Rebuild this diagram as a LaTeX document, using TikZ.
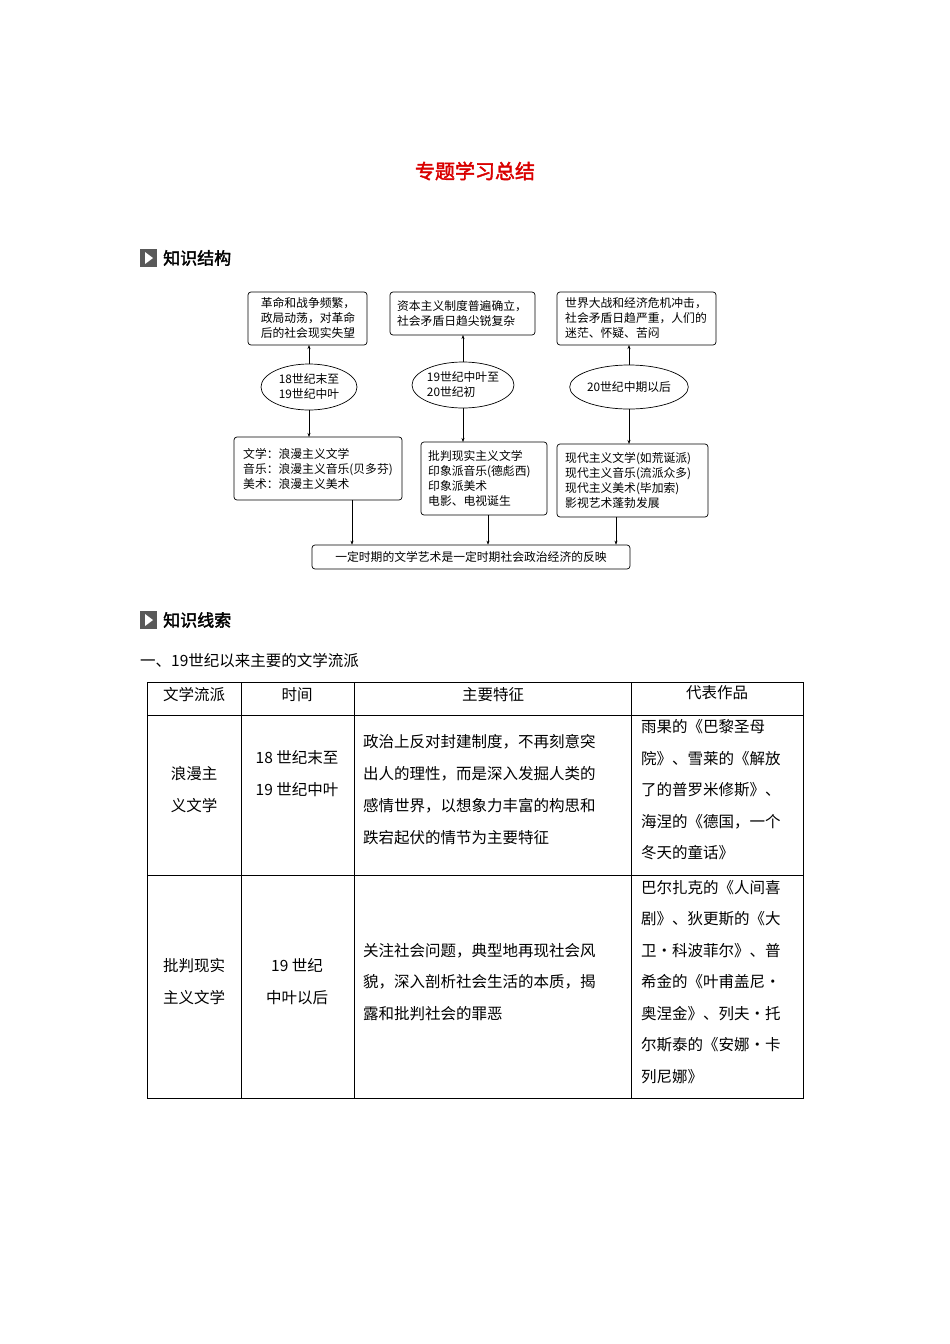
\documentclass[tikz,border=0pt]{standalone}
\usepackage{fontspec}
\setmainfont{Noto Sans CJK SC}[AutoFakeBold=2]
\usetikzlibrary{shapes.geometric,arrows.meta}
\begin{document}
\begin{tikzpicture}[x=1pt,y=-1pt,
  bx/.style={draw,rounded corners=3pt,line width=0.7pt,inner sep=0pt},
  el/.style={draw,ellipse,line width=0.7pt,inner sep=0pt},
  dt/.style={font=\fontsize{11.8}{15}\selectfont,align=left,inner sep=0pt},
  ar/.style={-{Stealth[length=4pt,width=3pt]},line width=0.5pt},
  tt/.style={font=\fontsize{15.5}{20}\selectfont,inner sep=0pt},
  hd/.style={font=\fontsize{17}{20}\selectfont\bfseries,anchor=west,inner sep=0pt}]
\useasboundingbox (0,0) rectangle (950,1344);
\node[font=\fontsize{20}{24}\selectfont\bfseries,text=red!85!black] (title) at (475,171) {专题学习总结};
% headers
\fill[gray!70!black] (140,249) rectangle (157,267);
\fill[white] (145,252) -- (153,258) -- (145,264) -- cycle;
\node[hd] (h1) at (163,258) {知识结构};
\fill[gray!70!black] (140,611) rectangle (157,629);
\fill[white] (145,614) -- (153,620) -- (145,626) -- cycle;
\node[hd] (h2) at (163,620) {知识线索};
% diagram
\draw[bx] (248,292) rectangle (367,345); \coordinate (b1) at (309,345);
\node[dt] (t1) at (308,318) {革命和战争频繁，\\政局动荡，对革命\\后的社会现实失望};
\draw[bx] (390,292) rectangle (535,335); \coordinate (b2) at (463,335);
\node[dt] (t2) at (462,313) {资本主义制度普遍确立，\\社会矛盾日趋尖锐复杂};
\draw[bx] (557,292) rectangle (716,345); \coordinate (b3) at (629,345);
\node[dt] (t3) at (636,318) {世界大战和经济危机冲击，\\社会矛盾日趋严重，人们的\\迷茫、怀疑、苦闷};
\node[el,minimum width=96,minimum height=46,dt] (e1) at (309,387) {18世纪末至\\19世纪中叶};
\node[el,minimum width=100,minimum height=46,dt] (e2) at (463,385) {19世纪中叶至\\20世纪初};
\node[el,minimum width=98,minimum height=44,dt] (e3) at (629,387) {20世纪中期以后};
\draw[bx] (234,437) rectangle (402,500); \coordinate (c1) at (309,437); \coordinate (d1) at (352,500);
\node[dt] (t4) at (318,469) {文学：浪漫主义文学\\音乐：浪漫主义音乐(贝多芬)\\美术：浪漫主义美术};
\draw[bx] (421,442) rectangle (547,515); \coordinate (c2) at (463,442); \coordinate (d2) at (488,515);
\node[dt,anchor=west] (t5) at (428,478) {批判现实主义文学\\印象派音乐(德彪西)\\印象派美术\\电影、电视诞生};
\draw[bx] (557,444) rectangle (708,517); \coordinate (c3) at (629,444); \coordinate (d3) at (616,517);
\node[dt,anchor=west] (t6) at (565,480) {现代主义文学(如荒诞派)\\现代主义音乐(流派众多)\\现代主义美术(毕加索)\\影视艺术蓬勃发展};
\node[bx,minimum width=318,minimum height=24,dt] (bot) at (471,557) {一定时期的文学艺术是一定时期社会政治经济的反映};
\draw[ar] (e1) -- (b1); \draw[ar] (e2) -- (b2); \draw[ar] (e3) -- (b3);
\draw[ar] (e1) -- (c1); \draw[ar] (e2) -- (c2); \draw[ar] (e3) -- (c3);
\draw[ar] (d1) -- (d1|-bot.north); \draw[ar] (d2) -- (d2|-bot.north); \draw[ar] (d3) -- (d3|-bot.north);
% table
\node[tt,anchor=west] (sub) at (140,661) {一、19世纪以来主要的文学流派};
\draw[line width=0.7pt] (147,682) rectangle (803,1098);
\foreach \x in {241,354,631} \draw[line width=0.7pt] (\x,682) -- (\x,1098);
\foreach \y in {715,875} \draw[line width=0.7pt] (147,\y) -- (803,\y);
\node[tt] (h1c) at (194,695) {文学流派};
\node[tt] (h2c) at (297,695) {时间};
\node[tt] (h3c) at (493,695) {主要特征};
\node[tt] (h4c) at (717,693) {代表作品};
\node[tt,align=center,font=\fontsize{15.5}{32}\selectfont] (r1a) at (194,790) {浪漫主\\义文学};
\node[tt,align=center,font=\fontsize{15.5}{32}\selectfont] (r1b) at (297,774) {18 世纪末至\\19 世纪中叶};
\node[tt,align=left,anchor=west,font=\fontsize{15.5}{32}\selectfont] (r1c) at (363,790) {政治上反对封建制度，不再刻意突\\出人的理性，而是深入发掘人类的\\感情世界，以想象力丰富的构思和\\跌宕起伏的情节为主要特征};
\node[tt,align=left,anchor=west,font=\fontsize{15.5}{31.5}\selectfont] (r1d) at (641,790) {雨果的《巴黎圣母\\院》、雪莱的《解放\\了的普罗米修斯》、\\海涅的《德国，一个\\冬天的童话》};
\node[tt,align=center,font=\fontsize{15.5}{32}\selectfont] (r2a) at (194,982) {批判现实\\主义文学};
\node[tt,align=center,font=\fontsize{15.5}{32}\selectfont] (r2b) at (297,982) {19 世纪\\中叶以后};
\node[tt,align=left,anchor=west,font=\fontsize{15.5}{31.5}\selectfont] (r2c) at (363,982) {关注社会问题，典型地再现社会风\\貌，深入剖析社会生活的本质，揭\\露和批判社会的罪恶};
\node[tt,align=left,anchor=west,font=\fontsize{15.5}{31.5}\selectfont] (r2d) at (641,982) {巴尔扎克的《人间喜\\剧》、狄更斯的《大\\卫·科波菲尔》、普\\希金的《叶甫盖尼·\\奥涅金》、列夫·托\\尔斯泰的《安娜·卡\\列尼娜》};
\end{tikzpicture}
\end{document}
